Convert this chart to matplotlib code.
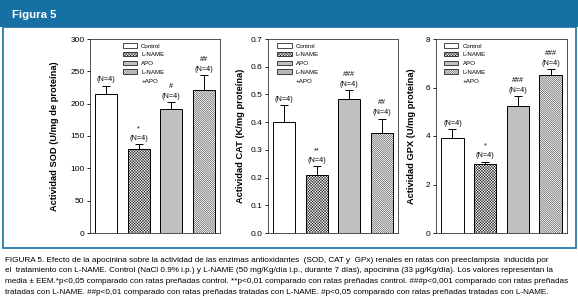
import matplotlib
matplotlib.use("Agg")
import matplotlib.pyplot as plt
from matplotlib.patches import Rectangle, Patch

plt.rcParams['font.family'] = ['Liberation Sans', 'DejaVu Sans']
plt.rcParams['hatch.linewidth'] = 0.3

# ---- data ----
groups = ["Control", "L-NAME", "APO", "L-NAME\n+APO"]
sod_mean = [215, 130, 192, 221]
sod_err = [13, 7, 10, 23]
cat_mean = [0.40, 0.21, 0.485, 0.36]
cat_err = [0.062, 0.03, 0.03, 0.052]
gpx_mean = [3.92, 2.84, 5.22, 6.50]
gpx_err = [0.36, 0.10, 0.42, 0.26]
n_labels = ["(N=4)", "(N=4)", "(N=4)", "(N=4)"]
sod_sig = ["", "*", "#", "##"]
cat_sig = ["", "**", "###", "##"]
gpx_sig = ["", "*", "###", "###"]
sod_ticks = [0, 50, 100, 150, 200, 250, 300]
cat_ticks = [0.0, 0.1, 0.2, 0.3, 0.4, 0.5, 0.6, 0.7]
gpx_ticks = [0, 2, 4, 6, 8]
ylabels = ["Actividad SOD (U/mg de proteína)",
           "Actividad CAT (K/mg proteína)",
           "Actividad GPX (U/mg proteína)"]
caption = [
    "FIGURA 5. Efecto de la apocinina sobre la actividad de las enzimas antioxidantes  (SOD, CAT y  GPx) renales en ratas con preeclampsia  inducida por",
    "el  tratamiento con L-NAME. Control (NaCl 0.9% i.p.) y L-NAME (50 mg/Kg/día i.p., durante 7 días), apocinina (33 µg/Kg/día). Los valores representan la",
    "media ± EEM.*p<0,05 comparado con ratas preñadas control. **p<0,01 comparado con ratas preñadas control. ###p<0,001 comparado con ratas preñadas",
    "tratadas con L-NAME. ##p<0,01 comparado con ratas preñadas tratadas con L-NAME. #p<0,05 comparado con ratas preñadas tratadas con L-NAME.",
]

# ---- styles ----
W, H = 578, 303
DPI = 100
blue = "#1670a4"
faces = ["white", "white", "#c0c0c0", "white"]
hatches = [None, "x" * 12, None, "\\" * 16]

fig = plt.figure(figsize=(W / DPI, H / DPI), dpi=DPI)

def fx(px):
    return px / W

def fy(py):
    return 1 - py / H

# header bar
fig.patches.append(Rectangle((0, fy(27)), 1, 27 / H, transform=fig.transFigure,
                             facecolor=blue, edgecolor="none", zorder=0))
fig.text(fx(12), fy(14.5), "Figura 5", color="white", fontsize=8.2,
         fontweight="bold", va="center", ha="left")
# outer frame
fig.patches.append(Rectangle((fx(2.5), fy(248)), fx(573), (248 - 27) / H,
                             transform=fig.transFigure, facecolor="none",
                             edgecolor=blue, linewidth=1.2, zorder=0))

panels = [
    (90, 220, sod_mean, sod_err, sod_sig, sod_ticks, (0, 300), ylabels[0], -0.235, "{:g}", 0.22),
    (268, 398, cat_mean, cat_err, cat_sig, cat_ticks, (0, 0.7), ylabels[1], -0.18, "{:.1f}", 0.04),
    (436, 567, gpx_mean, gpx_err, gpx_sig, gpx_ticks, (0, 8), ylabels[2], -0.155, "{:g}", 0.03),
]
top, bottom = 39, 233
x = list(range(len(groups)))

# legend entries: multi-line last label split so the swatch sits on its first line
leg_labels = []
leg_handles = []
for g, f, h in zip(groups, faces, hatches):
    parts = g.split("\n")
    leg_labels.append(parts[0])
    leg_handles.append((f, h, True))
    for extra in parts[1:]:
        leg_labels.append(extra)
        leg_handles.append((None, None, False))

for (l, r, means, errs, sig, ticks, ylim, ylab, labx, fmt, legx) in panels:
    ax = fig.add_axes([fx(l), fy(bottom), fx(r - l), (bottom - top) / H])
    bars = ax.bar(x, means, width=0.68, color=faces, edgecolor="black",
                  linewidth=0.7, zorder=2)
    for b, h in zip(bars, hatches):
        if h:
            b.set_hatch(h)
    ax.errorbar(x, means, yerr=[[0] * 4, errs], fmt="none", ecolor="black",
                elinewidth=0.7, capsize=3, capthick=0.7, zorder=3)
    for xi, m, e, n, s in zip(x, means, errs, n_labels, sig):
        ax.annotate(n, (xi, m + e), xytext=(0, 4.2), textcoords="offset points",
                    ha="center", va="center", fontsize=5.2)
        if s:
            ax.annotate(s, (xi, m + e), xytext=(0, 11.5), textcoords="offset points",
                        ha="center", va="center", fontsize=5.2)
    ax.set_xlim(-0.5, 3.5)
    ax.set_ylim(*ylim)
    ax.set_yticks(ticks)
    ax.set_yticklabels([fmt.format(t) for t in ticks], fontsize=6)
    ax.set_xticks([])
    ax.tick_params(axis="y", length=2.5, width=0.6, pad=1.5)
    for sp in ax.spines.values():
        sp.set_linewidth(0.6)
        sp.set_color("#333333")
    ax.set_ylabel(ylab, fontsize=6.7, fontweight="bold")
    ax.yaxis.set_label_coords(labx, 0.5)
    handles = []
    for f, h, vis in leg_handles:
        if vis:
            handles.append(Patch(facecolor=f, edgecolor="black", linewidth=0.5, hatch=h))
        else:
            handles.append(Patch(facecolor="none", edgecolor="none"))
    ax.legend(handles, leg_labels, loc="upper left", frameon=False, fontsize=4.4,
              handlelength=2.3, handleheight=0.75, labelspacing=0.55,
              handletextpad=0.7, borderaxespad=0.3, bbox_to_anchor=(legx, 1.0))

# caption
renderer = fig.canvas.get_renderer()
widths = []
for line in caption[:3]:
    probe = fig.text(0, 0, line, fontsize=5)
    widths.append(probe.get_window_extent(renderer).width)
    probe.remove()
fs = 5 * 567 / max(widths)
for i, line in enumerate(caption):
    fig.text(fx(5), fy(260 + i * 10.8), line, fontsize=fs, ha="left", va="center",
             color="black")

fig.savefig("out.png", dpi=DPI)
